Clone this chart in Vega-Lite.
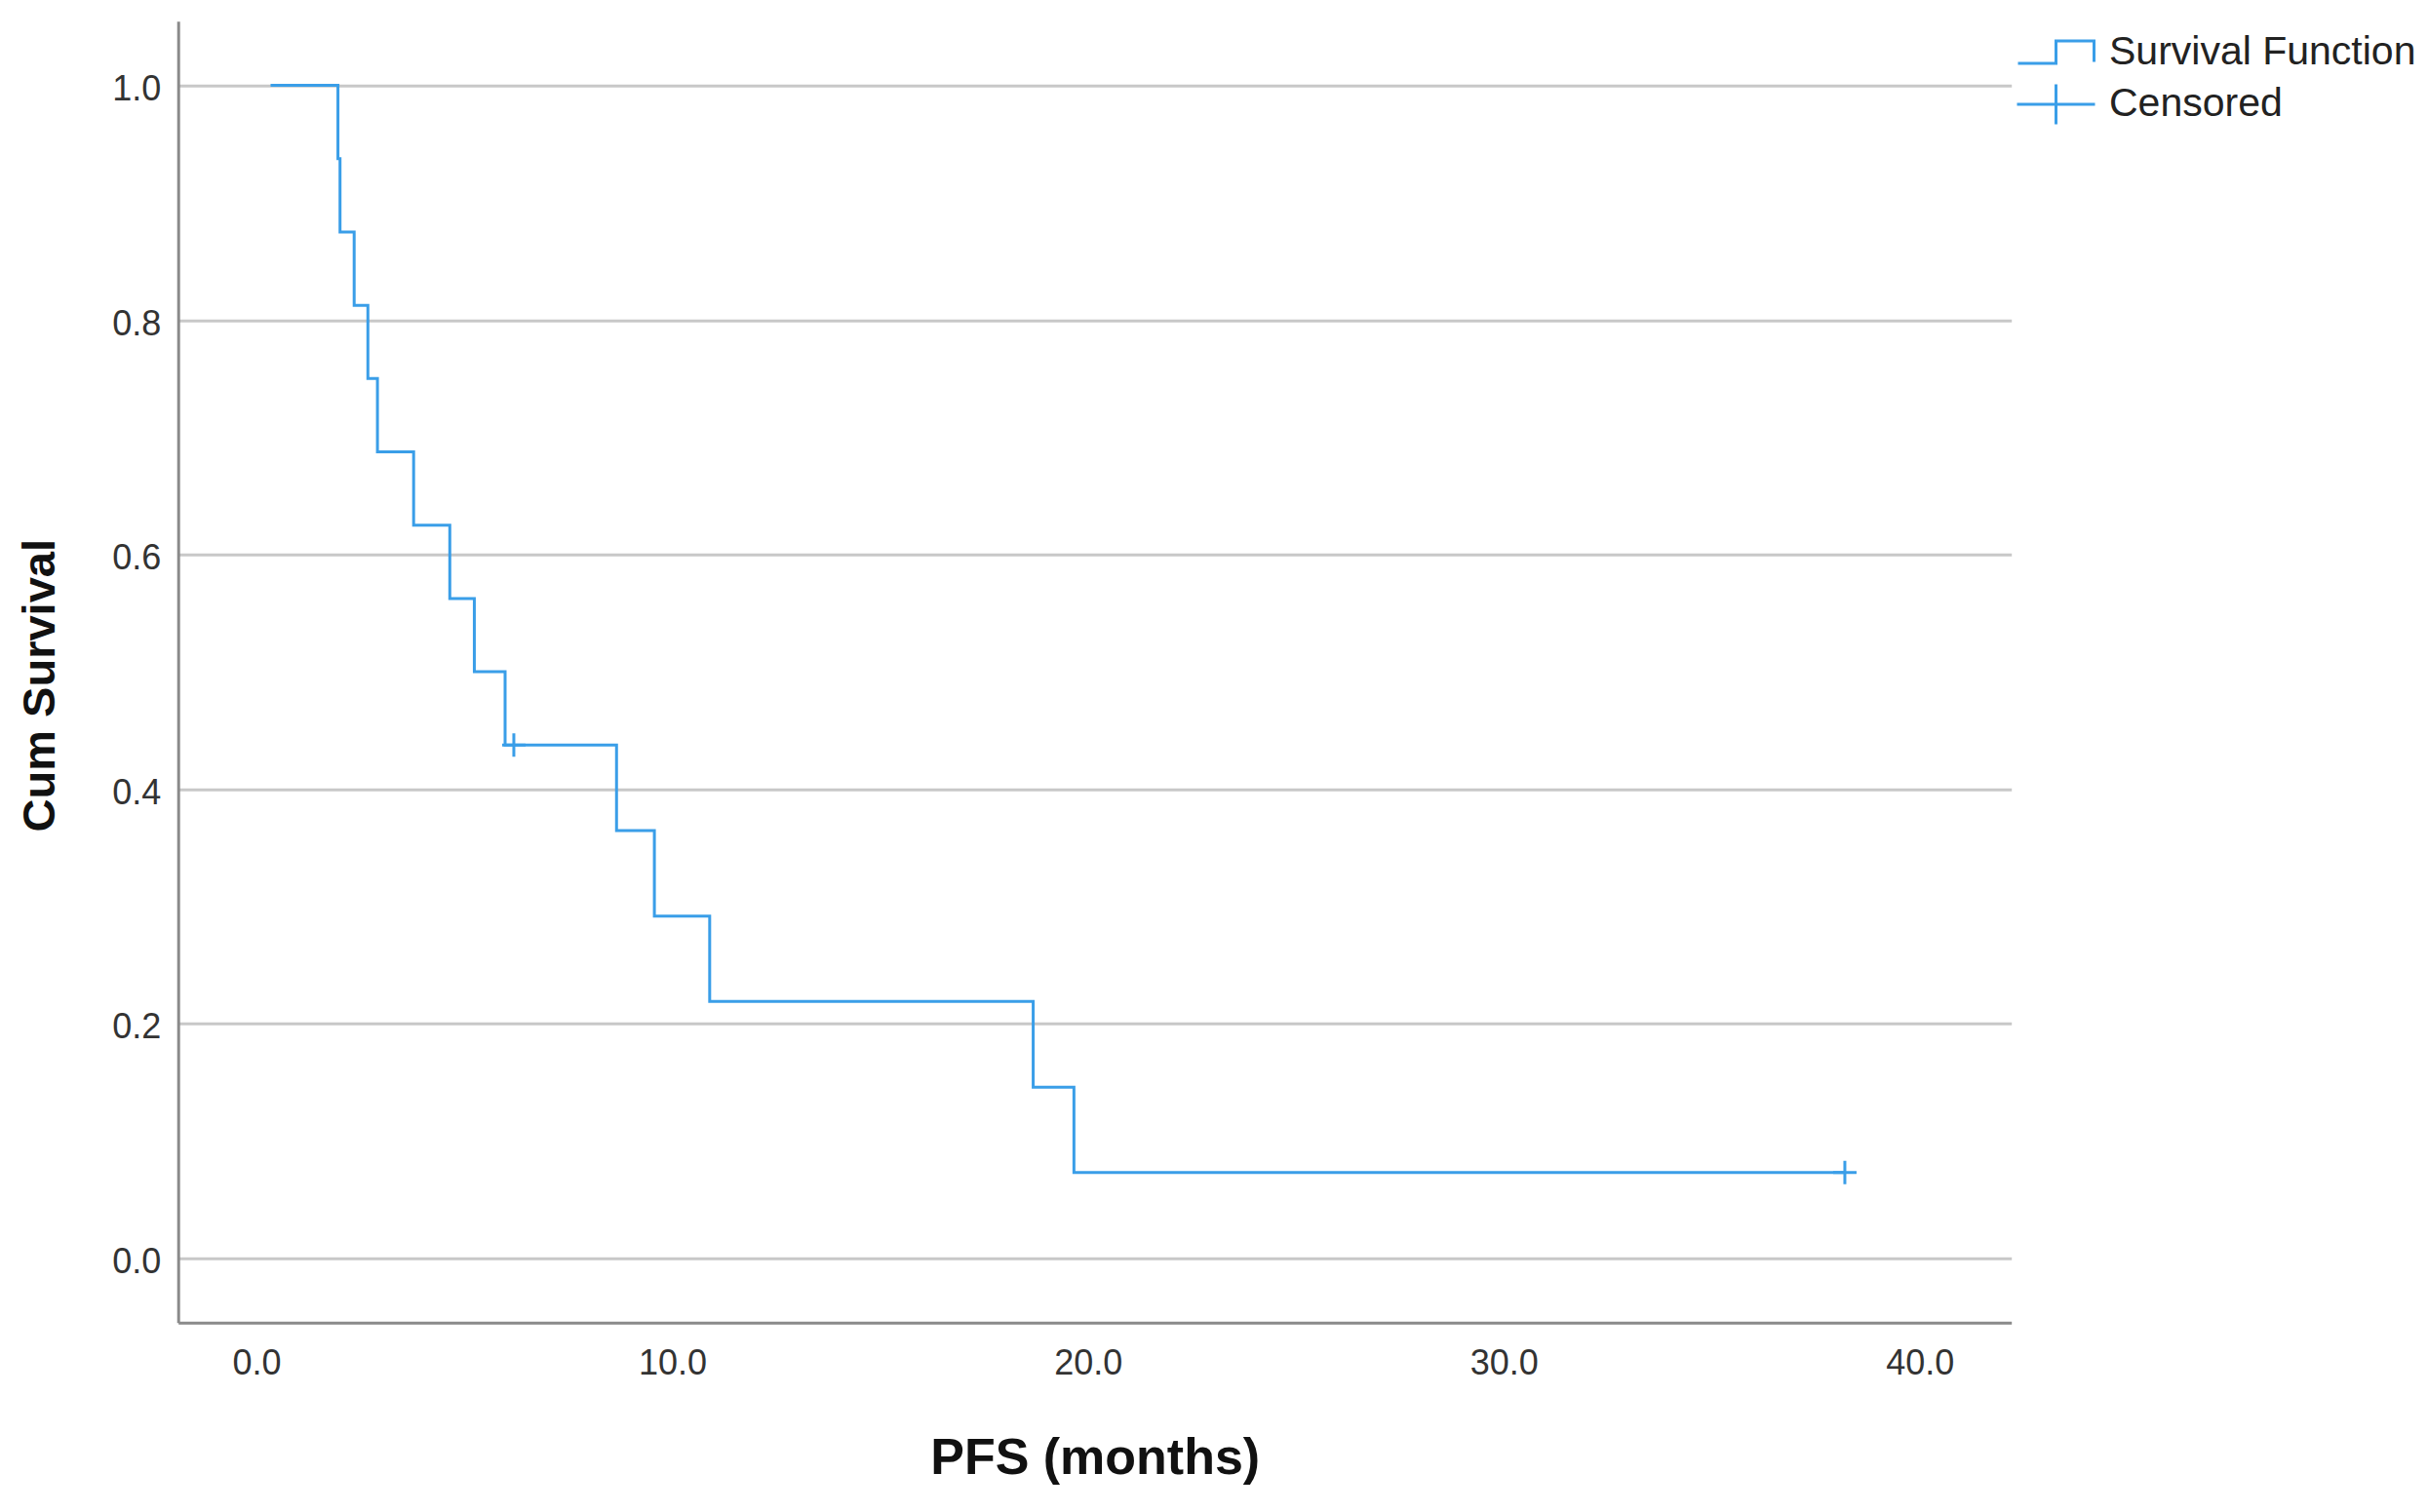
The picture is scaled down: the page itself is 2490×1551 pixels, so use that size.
{
  "$schema": "https://vega.github.io/schema/vega-lite/v6.json",
  "autosize": {"type": "none"},
  "padding": {"left": 182.7, "top": 21.7, "right": 427.3, "bottom": 194.3},
  "width": 1880,
  "height": 1335,
  "background": "white",
  "config": {
    "view": {"stroke": null},
    "font": "Liberation Sans"
  },
  "encoding": {
    "x": {
      "field": "t",
      "type": "quantitative",
      "scale": {"domain": [-1.883, 42.204], "nice": false, "zero": false},
      "axis": {
        "title": "PFS (months)",
        "values": [0, 10, 20, 30, 40],
        "format": ".1f",
        "grid": false,
        "ticks": false,
        "tickSize": 0,
        "labelPadding": 25,
        "labelFontSize": 36,
        "labelFont": "Liberation Sans",
        "labelColor": "#333333",
        "domainColor": "#8a8a8a",
        "domainWidth": 3,
        "titleFont": "Liberation Sans",
        "titleFontSize": 52,
        "titleFontWeight": "bold",
        "titleColor": "#111111",
        "titleY": 155,
        "titleBaseline": "alphabetic"
      }
    },
    "y": {
      "field": "s",
      "type": "quantitative",
      "scale": {"domain": [-0.055, 1.0548], "nice": false, "zero": false},
      "axis": {
        "title": "Cum Survival",
        "values": [0, 0.2, 0.4, 0.6, 0.8, 1.0],
        "format": ".1f",
        "grid": true,
        "gridColor": "#c8c8c8",
        "gridWidth": 3,
        "ticks": false,
        "tickSize": 0,
        "labelPadding": 18,
        "labelOffset": 4,
        "labelFontSize": 36,
        "labelFont": "Liberation Sans",
        "labelColor": "#333333",
        "domainColor": "#8a8a8a",
        "domainWidth": 3,
        "titleFont": "Liberation Sans",
        "titleFontSize": 47,
        "titleFontWeight": "bold",
        "titleColor": "#111111",
        "titleAngle": -90,
        "titleX": -141,
        "titleY": 681,
        "titleAlign": "center",
        "titleBaseline": "middle"
      }
    }
  },
  "layer": [
    {
      "data": {
        "values": [
          {"t": 0.34, "s": 1.0},
          {"t": 1.96, "s": 0.9375},
          {"t": 2.01, "s": 0.875},
          {"t": 2.35, "s": 0.8125},
          {"t": 2.68, "s": 0.75},
          {"t": 2.91, "s": 0.6875},
          {"t": 3.78, "s": 0.625},
          {"t": 4.65, "s": 0.5625},
          {"t": 5.24, "s": 0.5},
          {"t": 5.98, "s": 0.4375},
          {"t": 8.66, "s": 0.3646},
          {"t": 9.57, "s": 0.2917},
          {"t": 10.9, "s": 0.2188},
          {"t": 18.68, "s": 0.1458},
          {"t": 19.66, "s": 0.0729},
          {"t": 38.2, "s": 0.0729}
        ]
      },
      "mark": {"type": "line", "interpolate": "step-after", "color": "#3a9ee8", "strokeWidth": 3}
    },
    {
      "data": {
        "values": [
          {"t": 6.19, "s": 0.4375, "series": "Censored"},
          {"t": 38.2, "s": 0.0729, "series": "Censored"}
        ]
      },
      "mark": {"type": "point", "shape": "M-1,0H1M0,-1V1", "filled": false, "size": 576, "strokeWidth": 3, "color": "#3a9ee8", "opacity": 1}
    },
    {
      "data": {
        "values": [
          {"t": 6.19, "s": 0.4375, "series": "Censored"},
          {"t": 38.2, "s": 0.0729, "series": "Censored"}
        ]
      },
      "mark": {"type": "point", "filled": false, "size": 1600, "strokeWidth": 3, "color": "#3a9ee8", "opacity": 0},
      "encoding": {
        "shape": {
          "field": "series",
          "type": "nominal",
          "scale": {
            "domain": ["Survival Function", "Censored"],
            "range": ["M-1.95,0.575H0V-0.575H1.95V0.5", "M-2,0H2M0,-1.03V1.03"]
          },
          "legend": {
            "title": null,
            "orient": "none",
            "legendX": 1904.3,
            "legendY": 10.3,
            "padding": 0,
            "symbolSize": 1600,
            "symbolStrokeWidth": 3,
            "symbolStrokeColor": "#3a9ee8",
            "symbolOpacity": 1,
            "labelFont": "Liberation Sans",
            "labelFontSize": 41,
            "labelColor": "#222222",
            "labelOffset": 33,
            "labelLimit": 0,
            "rowPadding": 5.5
          }
        }
      }
    }
  ]
}
